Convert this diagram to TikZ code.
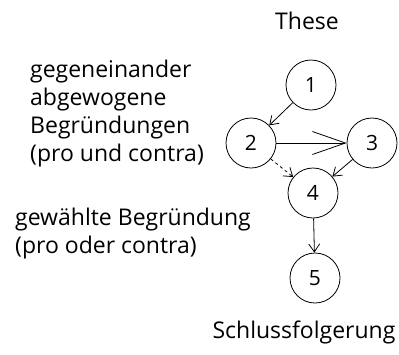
\documentclass[tikz,border=0pt]{standalone}
\usepackage{fontspec}
\setmainfont{Open Sans}
\usetikzlibrary{arrows.meta}
\tikzset{
  stage/.style={circle,draw,thick,minimum size=50pt,inner sep=0pt,font=\fontsize{21}{21}\selectfont},
  caption/.style={align=left,font=\fontsize{23}{28}\selectfont,inner sep=0pt},
  flow/.style={thick,-{Straight Barb[length=8pt,width=11pt]}}
}
\begin{document}
\begin{tikzpicture}[x=1pt,y=-1pt]
  \useasboundingbox (0,0) rectangle (399,354);
  \node[stage] (n1) at (311,85) {1};
  \node[stage] (n2) at (251,143) {2};
  \node[stage] (n3) at (372,143) {3};
  \node[stage] (n4) at (313,193) {4};
  \node[stage] (n5) at (315,278) {5};
  \draw[flow] (n1) -- (n2);
  \draw[thick,-{Straight Barb[length=33pt,width=23pt]}] (n2) -- (n3);
  \draw[flow,dashed] (n2) -- (n4);
  \draw[flow] (n3) -- (n4);
  \draw[flow] (n4) -- (n5);
  \node[caption,anchor=base] (these) at (307,29) {These};
  \node[caption,anchor=north west] (pro) at (30,60) {gegeneinander\\abgewogene\\Begründungen\\(pro und contra)};
  \node[caption,anchor=north west] (wahl) at (15,207.5) {gewählte Begründung\\(pro oder contra)};
  \node[caption,anchor=base] (schluss) at (304,338) {Schlussfolgerung};
\end{tikzpicture}
\end{document}
